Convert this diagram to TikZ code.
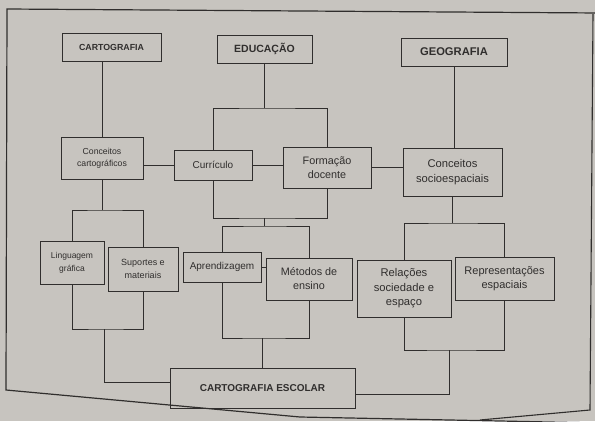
\documentclass[tikz,border=0pt]{standalone}
\usepackage{fontspec}
\setmainfont{Liberation Sans}
\definecolor{paper}{RGB}{199,196,191}
\definecolor{ink}{RGB}{48,46,45}
\begin{document}
\begin{tikzpicture}[x=1pt,y=-1pt,
  box/.style={draw=ink,line width=0.9pt,rectangle,inner sep=1pt,align=center,text=ink},
  conn/.style={draw=ink,line width=0.8pt}]
\fill[paper] (0,0) rectangle (595,421);
\useasboundingbox (0,0) rectangle (595,421);
% frame
\draw[ink,line width=1.2pt] (600,13) -- (7,9) -- (6,390) -- (300,417) -- (600,423);
\draw[ink,line width=1.1pt] (593,14) -- (590,410) -- (480,420);
% nodes
\node[box,minimum width=99,minimum height=28,font={\fontsize{8.8}{11}\selectfont\bfseries}] (cart) at (111.5,47) {CARTOGRAFIA};
\node[box,minimum width=95,minimum height=28,font={\fontsize{10.5}{13}\selectfont\bfseries}] (edu) at (264.5,49) {EDUCAÇÃO};
\node[box,minimum width=106,minimum height=28,font={\fontsize{11.2}{14}\selectfont\bfseries}] (geo) at (454,52) {GEOGRAFIA};
\node[box,minimum width=82,minimum height=42,font={\fontsize{8.7}{12.5}\selectfont}] (ccart) at (102,158) {Conceitos\\cartográficos};
\node[box,minimum width=78,minimum height=30,font={\fontsize{10}{13}\selectfont}] (curr) at (213,165) {Currículo};
\node[box,minimum width=88,minimum height=41,font={\fontsize{10.8}{14}\selectfont}] (form) at (327,167.5) {Formação\\docente};
\node[box,minimum width=99,minimum height=48,font={\fontsize{11.2}{14.5}\selectfont}] (csoc) at (452.5,172) {Conceitos\\socioespaciais};
\node[box,minimum width=64,minimum height=43,font={\fontsize{8.5}{13}\selectfont}] (ling) at (72,262.5) {Linguagem\\gráfica};
\node[box,minimum width=70,minimum height=44,font={\fontsize{9}{13}\selectfont}] (sup) at (143,269) {Suportes e\\materiais};
\node[box,minimum width=78,minimum height=30,font={\fontsize{10}{13}\selectfont}] (apr) at (222,267) {Aprendizagem};
\node[box,minimum width=86,minimum height=42,font={\fontsize{10.8}{14}\selectfont}] (met) at (309,279) {Métodos de\\ensino};
\node[box,minimum width=94,minimum height=57,font={\fontsize{11.2}{14.5}\selectfont}] (rel) at (404,288.5) {Relações\\sociedade e\\espaço};
\node[box,minimum width=99,minimum height=43,font={\fontsize{11}{14}\selectfont}] (rep) at (504.5,278.5) {Representações\\espaciais};
\node[box,minimum width=185,minimum height=40,font={\fontsize{10}{13}\selectfont\bfseries}] (esc) at (262.5,388) {CARTOGRAFIA ESCOLAR};
% junction points
\coordinate (eduj) at (264,108);
\coordinate (edub) at (264,218);
\coordinate (aprj) at (264,226);
\coordinate (aprb) at (262,338);
\coordinate (geoj) at (452,223);
\coordinate (geob) at (449,350);
\coordinate (cj) at (102,210);
\coordinate (cb) at (104,329);
% connectors
\draw[conn] (ccart.north |- cart.south) -- (ccart.north);
\draw[conn] (eduj -| edu.south) -- (edu.south);
\draw[conn] (curr.north) |- (eduj) -| (form.north);
\draw[conn] (ccart.east |- curr.west) -- (curr.west);
\draw[conn] (curr.east) -- (form.west |- curr.east);
\draw[conn] (form.east) -- (csoc.west |- form.east);
\draw[conn] (curr.south) |- (edub) -| (form.south);
\draw[conn] (edub) -- (aprj);
\draw[conn] (apr.north) |- (aprj) -| (met.north);
\draw[conn] (apr.east) -- (met.west |- apr.east);
\draw[conn] (apr.south) |- (aprb) -| (met.south);
\draw[conn] (aprb) -- (esc.north -| aprb);
\draw[conn] (geo.south) -- (geo.south |- csoc.north);
\draw[conn] (csoc.south -| geoj) -- (geoj);
\draw[conn] (rel.north) |- (geoj) -| (rep.north);
\draw[conn] (rel.south) |- (geob) -| (rep.south);
\draw[conn] (geob) |- ([yshift=-6pt]esc.east);
\draw[conn] (ccart.south -| cj) -- (cj);
\draw[conn] (ling.north) |- (cj) -| (sup.north);
\draw[conn] (ling.south) |- (cb) -| (sup.south);
\draw[conn] (cb) |- ([yshift=6pt]esc.west);
\end{tikzpicture}
\end{document}
